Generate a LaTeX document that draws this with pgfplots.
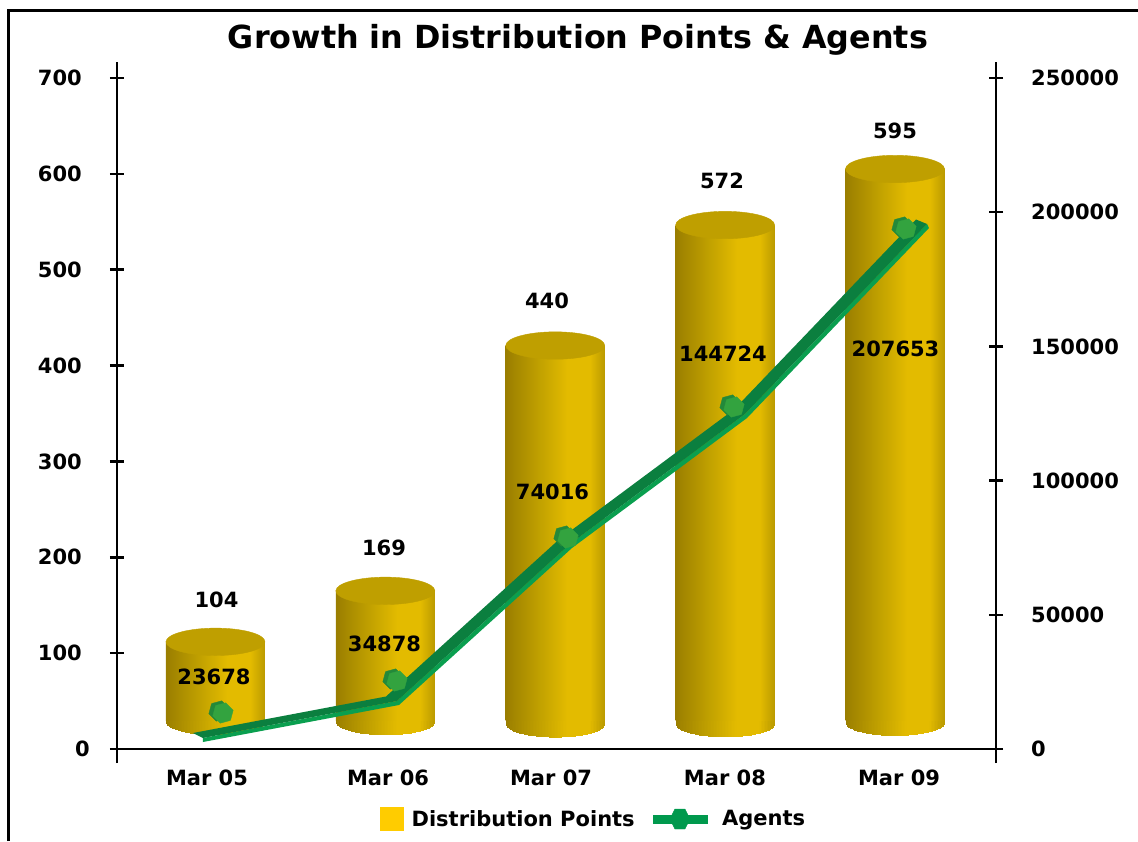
\documentclass[border=0pt]{standalone}
\usepackage{fontspec}
\setmainfont{DejaVu Sans}
\usepackage{pgfplots}
\usepackage{pgfplotstable}
\pgfplotsset{compat=1.18}

\definecolor{cylleft}{HTML}{9A7E00}
\definecolor{cylmid}{HTML}{C2A200}
\definecolor{cylhi}{HTML}{E3BB00}
\definecolor{cylright}{HTML}{BA9A00}
\definecolor{cyltop}{HTML}{BF9F00}
\definecolor{ribbontop}{HTML}{0B7F3F}
\definecolor{ribbonside}{HTML}{0A9F4F}
\definecolor{hexfront}{HTML}{33A33F}
\definecolor{hexback}{HTML}{23893A}
\definecolor{legyellow}{HTML}{FFCC00}
\definecolor{leggreen}{HTML}{00994D}

\pgfdeclarehorizontalshading{cyl}{100bp}{
  color(0bp)=(cylleft); color(25bp)=(cylleft); color(42.5bp)=(cylmid);
  color(56bp)=(cylhi); color(67.5bp)=(cylhi); color(75bp)=(cylright); color(100bp)=(cylright)}

% cylinder ends and the hexagon of the line series
\pgfdeclareplotmark{cylbottom}{
  \foreach \x in {-49.5,-48,...,48}{
    \pgfmathsetmacro\t{(\x+50.25)/99}
    \pgfmathsetmacro\pa{min(\t/0.35,1)*100}
    \pgfmathsetmacro\pb{max(min((\t-0.35)/0.27,1),0)*100}
    \pgfmathsetmacro\pc{max((\t-0.85)/0.15,0)*100}
    \pgfmathsetmacro\yb{-13.5*sqrt(1-((\x+0.75)/49.5)^2)}
    \pgfmathsetmacro\xa{max(\x,-49.1)}
    \pgfmathsetmacro\xe{min(\x+1.7,49.1)}
    \colorlet{sa}{cylmid!\pa!cylleft}
    \colorlet{sb}{cylhi!\pb!sa}
    \colorlet{sc}{cylright!\pc!sb}
    \fill[sc] (\xa pt,5pt) rectangle (\xe pt,\yb pt);
  }}
\pgfdeclareplotmark{cyltopface}{
  \fill[cyltop] (0pt,0pt) ellipse[x radius=49.5pt,y radius=13.7pt];}
\pgfdeclareplotmark{hexbolt}{
  \fill[hexback] (6.14pt,4.72pt) -- (-1.28pt,12.14pt) -- (-11.42pt,9.42pt) -- (-14.14pt,-0.72pt) -- (-6.72pt,-8.14pt) -- (3.42pt,-5.42pt) -- cycle;
  \fill[hexfront] (10.14pt,2.72pt) -- (2.72pt,10.14pt) -- (-7.42pt,7.42pt) -- (-10.14pt,-2.72pt) -- (-2.72pt,-10.14pt) -- (7.42pt,-7.42pt) -- cycle;}

\pgfplotstableread{
x y
0 111.8
1 165.0
2 420.9
3 546.6
4 605.1
}\cyltops
\pgfplotstableread{
x y
0 29.2
1 29.2
2 26.8
3 27.1
4 28.5
}\cylbases
\pgfplotstableread{
x y label
0.0059 155.4 104
0.9919 209.7 169
1.9514 467.4 440
2.9816 592.6 572
4.0000 644.7 595
}\cyllabels
\pgfplotstableread{
x y
0.0442 13413
1.0684 25335
2.0750 78614
3.0523 127422
4.0648 193741
}\agentmarks
\pgfplotstableread{
x y label
-0.0088 27012 23678
0.9948 39307 34878
1.9838 95939 74016
2.9875 147168 144724
4.0029 149031 207653
}\agentlabels

\pgfplotsset{
  chartbox/.style={
    scale only axis, width=879pt, height=701pt,
    xmin=-0.5798, xmax=4.5946,
  },
  chartaxis/.style={
    chartbox,
    major tick length=14pt,
    tick align=outside,
    tick label style={font=\fontsize{21}{21}\selectfont\bfseries},
    /pgf/number format/fixed,
    /pgf/number format/assume math mode=true,
    /pgf/number format/1000 sep={},
    scaled y ticks=false,
  },
  heavylines/.style={
    axis line style={-, line width=2.5pt},
    tick style={line width=2.5pt, black},
  },
  cylbar/.style={
    ybar, bar width=99pt, bar shift=0pt, draw=none, shade, shading=cyl,
  },
  datalabels/.style={
    only marks, mark=none,
    nodes near coords, point meta=explicit symbolic,
    nodes near coords style={anchor=center, inner sep=0pt, text=black,
      font=\fontsize{21}{21}\selectfont\bfseries},
  },
}

\begin{document}
\begin{tikzpicture}
\path[use as bounding box] (-117pt,-78pt) rectangle (1021pt,763pt);
\draw[line width=3pt] (-108.5pt,-78pt) -- (-108.5pt,752.5pt) -- (1021pt,752.5pt);

% left axis, zero line, months and the round base of the cylinders
\begin{axis}[
    chartaxis,
    ymin=-14.605, ymax=716.7,
    axis y line=left, axis x line=middle,
    heavylines,
    hide obscured x ticks=false, hide obscured y ticks=false,
    ytick={100,200,300,400,500,600,700},
    extra y ticks={0},
    extra y tick style={yticklabel style={xshift=8pt}},
    yticklabel style={anchor=east, inner sep=0pt, xshift=-28pt},
    xtick={-0.05,1.0155,1.975,2.999,4.0236},
    xticklabels={Mar 05,Mar 06,Mar 07,Mar 08,Mar 09},
    xticklabel style={anchor=base, inner sep=0pt, yshift=-29pt},
    x tick style={draw=none},
    title={Growth in Distribution Points \& Agents},
    title style={at={(0.5,1)}, anchor=base, inner sep=0pt, xshift=21.5pt, yshift=7pt,
      font=\fontsize{31.8}{32}\selectfont\bfseries},
]
\addplot[only marks, mark=cylbottom] table {\cylbases};
\end{axis}

% cylinders, the axis box starts at their base
\begin{axis}[
    chartbox, at={(0pt,42pt)}, height=659pt,
    ymin=29.2, ymax=716.7,
    hide axis, clip mode=individual,
]
\addplot[cylbar] coordinates {(0,111.8)};
\addplot[cylbar] coordinates {(1,165.0)};
\addplot[cylbar] coordinates {(2,420.9)};
\addplot[cylbar] coordinates {(3,546.6)};
\addplot[cylbar] coordinates {(4,605.1)};
\addplot[only marks, mark=cyltopface] table {\cyltops};
\addplot[datalabels] table[meta=label] {\cyllabels};
\end{axis}

% right axis, agents line as a 3d ribbon
\begin{axis}[
    chartaxis,
    ymin=-5216, ymax=255961,
    axis y line=right, axis x line=none,
    heavylines,
    hide obscured y ticks=false,
    ytick={0,50000,100000,150000,200000,250000},
    yticklabel style={anchor=west, inner sep=0pt, xshift=28pt},
    clip=false,
    legend columns=2,
    legend cell align=left,
    legend style={at={(0.2992,-0.0799)}, anchor=west, draw=none, fill=none, inner sep=0pt,
      font=\fontsize{21}{21}\selectfont\bfseries,
      /tikz/column 1/.style={column sep=6pt},
      /tikz/column 2/.style={column sep=16pt},
      /tikz/column 3/.style={column sep=13pt}},
]
\addplot[draw=none, fill=ribbonside, forget plot] coordinates {
  (-0.0736,4098) (1.0684,17884) (2.0868,76379) (3.1170,124814) (4.1884,195604)
  (4.2001,194113) (3.1289,123323) (2.0986,74888) (1.0802,16393) (-0.0736,2608)
} -- cycle;
\addplot[draw=none, fill=ribbontop, forget plot] coordinates {
  (-0.1325,5961) (1.0037,19560) (2.0221,78055) (3.0523,126490) (4.1236,197280)
  (4.1884,195604) (3.1170,124814) (2.0868,76379) (1.0684,17884) (-0.0736,4098)
} -- cycle;
\addplot[only marks, mark=hexbolt, forget plot] table {\agentmarks};
\addplot[datalabels, forget plot] table[meta=label] {\agentlabels};
\addlegendimage{legend image code/.code={
  \fill[legyellow] (0pt,-11.5pt) rectangle (23pt,11.5pt);}}
\addlegendentry{Distribution Points}
\addlegendimage{legend image code/.code={
  \fill[leggreen] (0pt,-4pt) rectangle (54pt,4pt);
  \fill[leggreen] (17pt,0pt) -- (22pt,10pt) -- (32pt,10pt) -- (37pt,0pt) -- (32pt,-10pt) -- (22pt,-10pt) -- cycle;}}
\addlegendentry{Agents}
\end{axis}
\end{tikzpicture}
\end{document}
